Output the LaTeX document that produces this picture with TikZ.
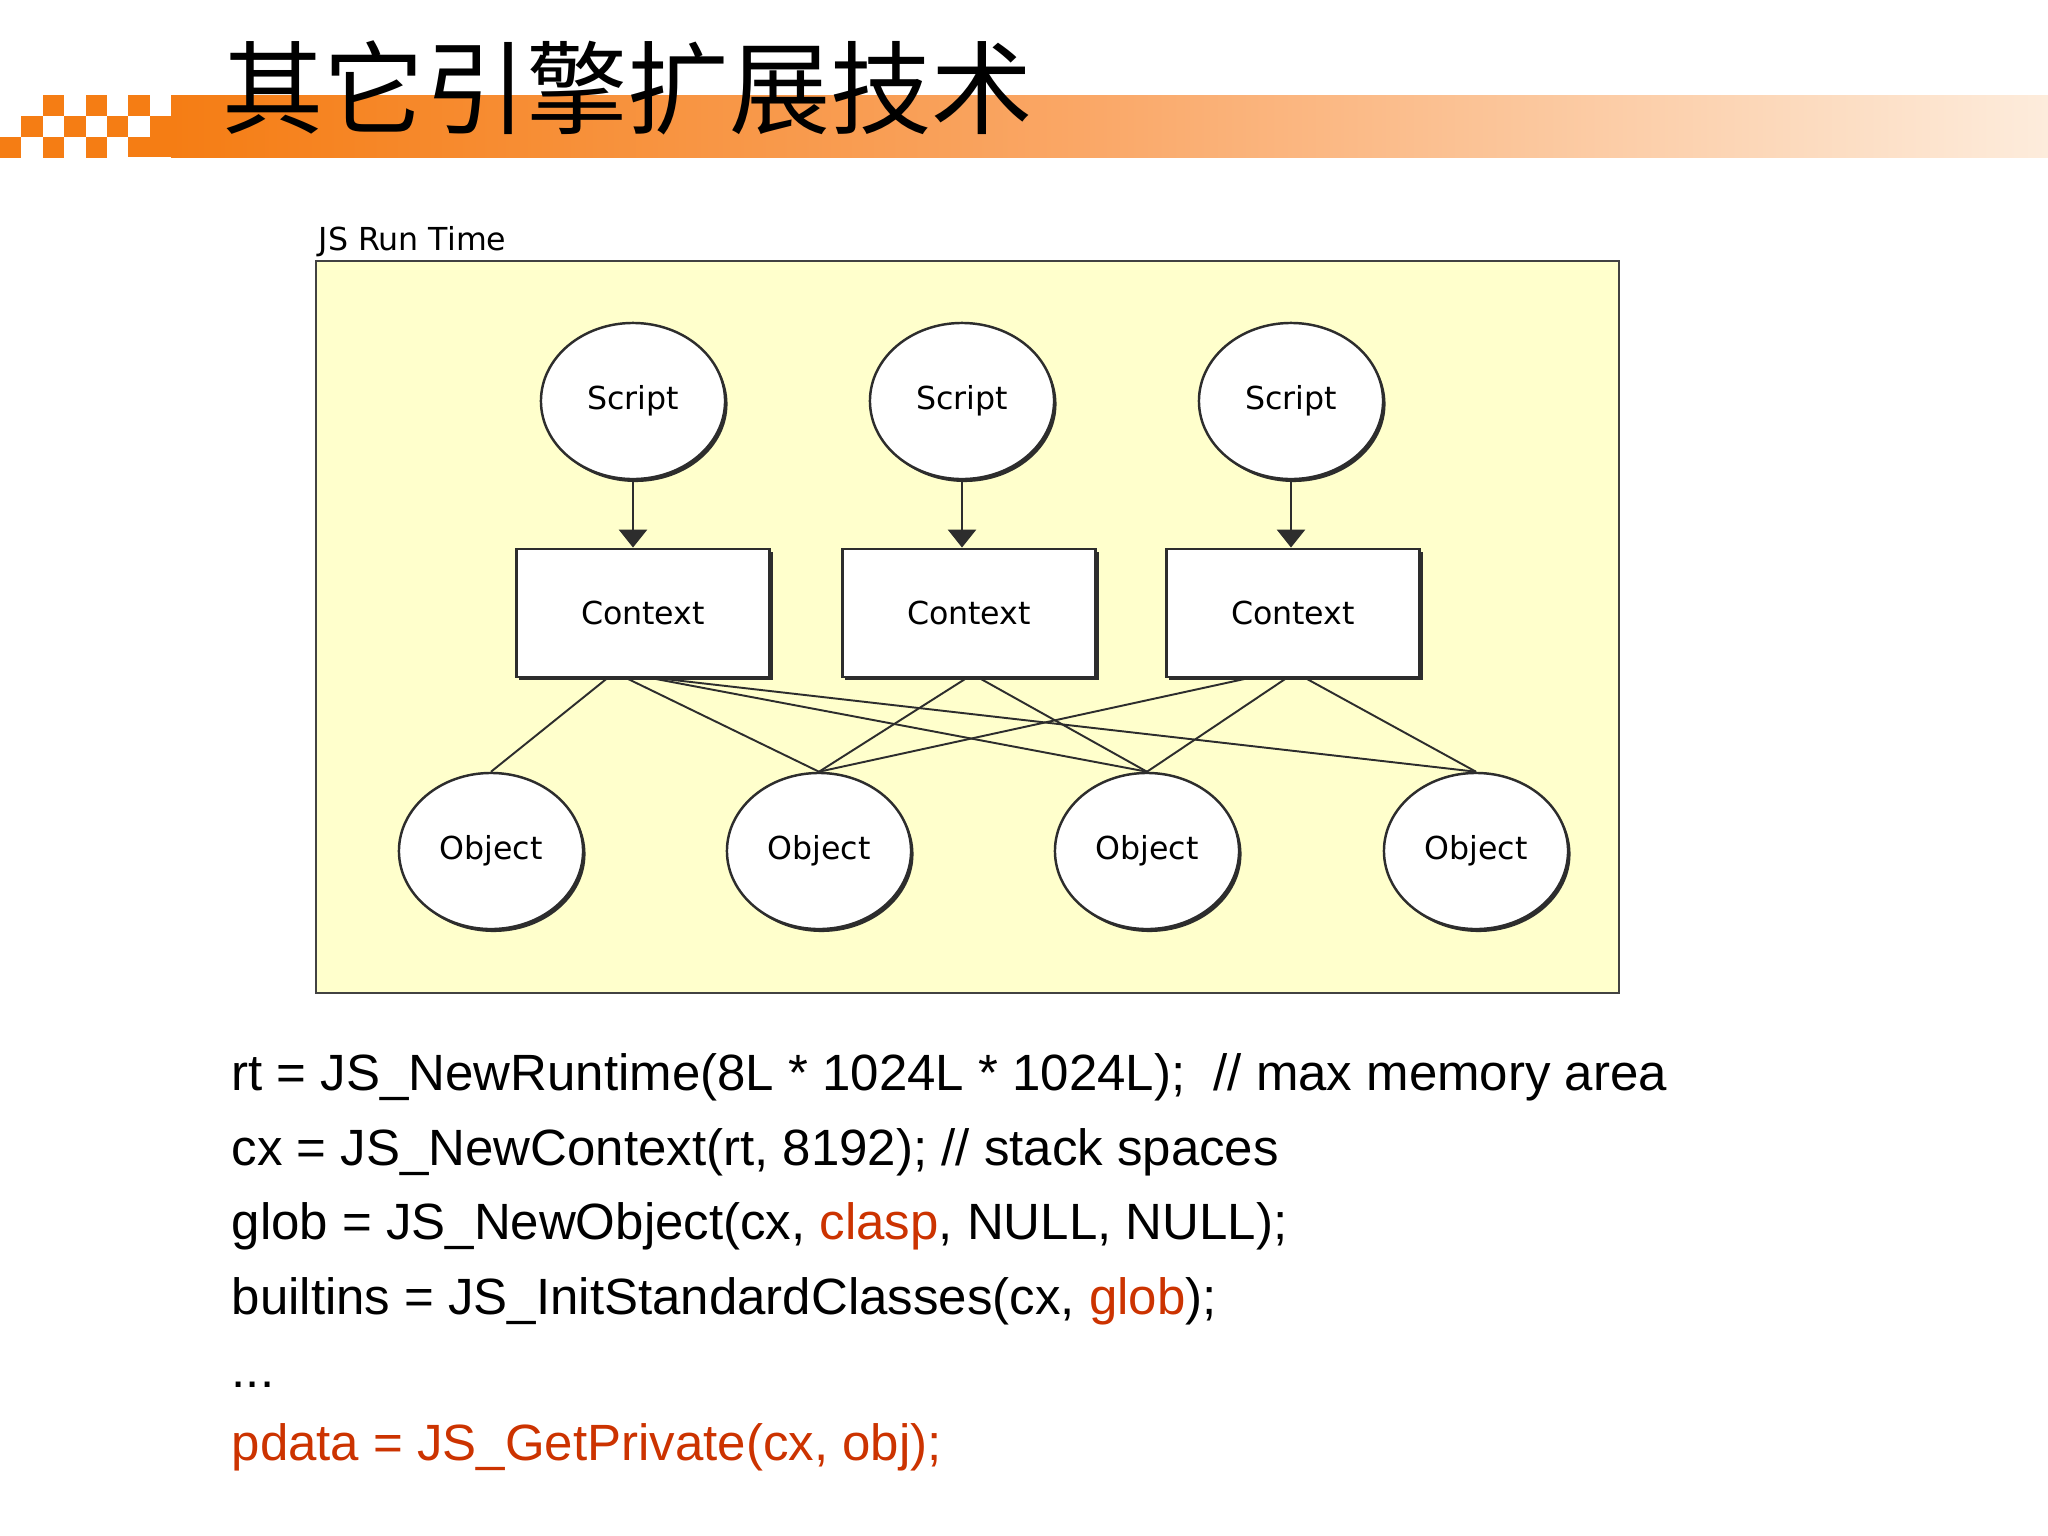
\documentclass[tikz,border=0pt]{standalone}
\usepackage{fontspec}
\setmainfont{Liberation Sans}
\newfontfamily\cjkfont{Noto Sans CJK SC}
\newfontfamily\diafont{DejaVu Sans}
\usepackage{tikz}
\usetikzlibrary{shapes.geometric,arrows.meta,shadows}
\usepackage{xcolor}
\definecolor{barorange}{RGB}{245,125,20}
\definecolor{barmid}{RGB}{250,168,104}
\definecolor{barpale}{RGB}{253,236,220}
\definecolor{rtyellow}{RGB}{255,255,204}
\definecolor{hilite}{RGB}{204,51,0}
\definecolor{ink}{RGB}{45,45,45}

\begin{document}
\begin{tikzpicture}[
    x=0.01cm, y=-0.01cm,
    script/.style={ellipse, draw=ink, line width=0.7pt, fill=white,
               minimum width=1.84cm, minimum height=1.56cm, inner sep=0pt,
               font=\diafont\fontsize{9}{11}\selectfont,
               drop shadow={shadow xshift=0.025cm, shadow yshift=-0.03cm, fill=ink, opacity=1}},
    ctx/.style={rectangle, draw=ink, line width=0.8pt, fill=white,
               minimum width=2.53cm, minimum height=1.28cm, inner sep=0pt,
               font=\diafont\fontsize{9}{11}\selectfont,
               drop shadow={shadow xshift=0.03cm, shadow yshift=-0.03cm, fill=ink, opacity=1}},
    link/.style={ink, line width=0.55pt},
    flow/.style={ink, line width=0.8pt, -{Triangle[width=0.28cm,length=0.18cm]}},
    code/.style={anchor=base west, inner sep=0pt, font=\fontsize{14.5}{17}\selectfont}
  ]
    \useasboundingbox (0,0) rectangle (2048,1536);
    \fill[white] (0,0) rectangle (2048,1536);

    % title bar
    \foreach \c/\r in {2/0,4/0,6/0,1/1,3/1,5/1,0/2,2/2,4/2}
      \fill[barorange] (\c*21.4,95+\r*21) rectangle ++(21.4,21);
    \fill[barorange] (150,116) rectangle (172,157);
    \fill[barorange] (128,137) rectangle (150,157);
    \shade[left color=barorange, right color=barmid] (171,95) rectangle (1100,157);
    \shade[left color=barmid, right color=barpale] (1099,95) rectangle (2048,157);
    \node[anchor=west, inner sep=0pt, font=\cjkfont\fontsize{28.8}{30}\selectfont] (title) at (222,88) {其它引擎扩展技术};

    % runtime box
    \draw[fill=rtyellow, draw=ink!90, line width=0.8pt] (316,261) rectangle (1619,993);
    \node[anchor=base west, inner sep=0pt, font=\diafont\fontsize{9}{11}\selectfont] (rt) at (318,250) {JS Run Time};

    \node[script] (s1) at (633,401) {Script};
    \node[script] (s2) at (962,401) {Script};
    \node[script] (s3) at (1291,401) {Script};

    \node[ctx] (c1) at (643,613) {Context};
    \node[ctx] (c2) at (969,613) {Context};
    \node[ctx] (c3) at (1293,613) {Context};

    \node[script] (o1) at (491,851) {Object};
    \node[script] (o2) at (819,851) {Object};
    \node[script] (o3) at (1147,851) {Object};
    \node[script] (o4) at (1476,851) {Object};

    \draw[flow] (s1.south) -- (s1.south |- c1.north);
    \draw[flow] (s2.south) -- (s2.south |- c2.north);
    \draw[flow] (s3.south) -- (s3.south |- c3.north);

    \draw[link] ([xshift=-0.36cm]c1.south) -- (o1.north);
    \draw[link] ([xshift=-0.16cm]c1.south) -- (o2.north);
    \draw[link] ([xshift=0.10cm]c1.south) -- (o3.north);
    \draw[link] ([xshift=0.17cm]c1.south) -- (o4.north);
    \draw[link] ([xshift=-0.03cm]c2.south) -- (o2.north);
    \draw[link] ([xshift=0.11cm]c2.south) -- (o3.north);
    \draw[link] ([xshift=-0.46cm]c3.south) -- (o2.north);
    \draw[link] ([xshift=-0.07cm]c3.south) -- (o3.north);
    \draw[link] ([xshift=0.13cm]c3.south) -- (o4.north);

    % code lines
    \node[code] (l1) at (231,1090) {rt = JS\_NewRuntime(8L * 1024L * 1024L);~~// max memory area};
    \node[code] (l2) at (231,1165) {cx = JS\_NewContext(rt, 8192); // stack spaces};
    \node[code] (l3) at (231,1239) {glob = JS\_NewObject(cx, \textcolor{hilite}{clasp}, NULL, NULL);};
    \node[code] (l4) at (231,1314) {builtins = JS\_InitStandardClasses(cx, \textcolor{hilite}{glob});};
    \node[code] (l5) at (231,1387) {...};
    \node[code, hilite] (l6) at (231,1460) {pdata = JS\_GetPrivate(cx, obj);};
  \end{tikzpicture}
\end{document}
